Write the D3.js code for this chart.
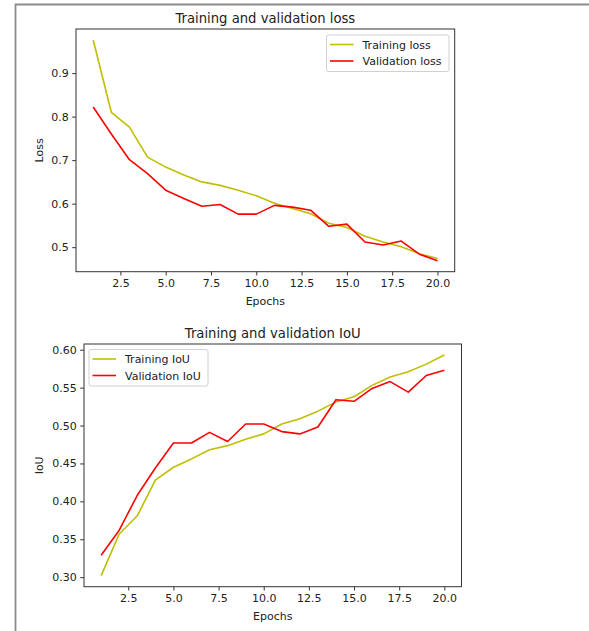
<!DOCTYPE html>
<html>
<head>
<meta charset="utf-8">
<script src="https://cdn.jsdelivr.net/npm/d3@7"></script>
<style>
  html, body { margin: 0; padding: 0; background: #ffffff; }
  svg { display: block; font-family: "DejaVu Sans", sans-serif; }
</style>
</head>
<body>
<svg id="chart" width="589" height="631"></svg>
<script>
// ---- data ----
const epochs = [1,2,3,4,5,6,7,8,9,10,11,12,13,14,15,16,17,18,19,20];
const trainLoss = [0.976,0.810,0.776,0.707,0.684,0.666,0.650,0.642,0.631,0.618,0.601,0.589,0.577,0.555,0.545,0.525,0.512,0.501,0.485,0.474];
const valLoss   = [0.822,0.760,0.701,0.669,0.631,0.612,0.594,0.598,0.576,0.576,0.596,0.592,0.585,0.548,0.553,0.512,0.505,0.514,0.484,0.469];
const trainIoU  = [0.302,0.357,0.381,0.428,0.445,0.456,0.468,0.4735,0.482,0.489,0.502,0.509,0.519,0.531,0.538,0.553,0.564,0.571,0.581,0.593];
const valIoU    = [0.329,0.362,0.408,0.444,0.477,0.477,0.491,0.479,0.502,0.502,0.492,0.489,0.498,0.534,0.532,0.549,0.558,0.544,0.566,0.573];
const xTicks = [2.5,5.0,7.5,10.0,12.5,15.0,17.5,20.0];
const lossTicks = [0.5,0.6,0.7,0.8,0.9];
const iouTicks = [0.30,0.35,0.40,0.45,0.50,0.55,0.60];
const trainColor = "#bfbf00";
const valColor = "#ff0000";

const svg = d3.select("#chart");

// notebook cell frame
svg.append("path")
  .attr("d", "M15.5,631 L15.5,4.5 L589,4.5")
  .attr("fill", "none").attr("stroke", "#8c8c8c").attr("stroke-width", 1.8);

function padExtent(arr) {
  const [lo, hi] = d3.extent(arr);
  const m = (hi - lo) * 0.05;
  return [lo - m, hi + m];
}

function panel(opt) {
  const g = svg.append("g");
  const x = d3.scaleLinear().domain(padExtent(epochs)).range([opt.left, opt.right]);
  const y = d3.scaleLinear().domain(padExtent(opt.train.concat(opt.val))).range([opt.bottom, opt.top]);

  const line = d3.line().x((d, i) => x(epochs[i])).y(d => y(d));
  g.append("path").datum(opt.train).attr("d", line)
    .attr("fill", "none").attr("stroke", trainColor).attr("stroke-width", 1.6).attr("stroke-linejoin", "round");
  g.append("path").datum(opt.val).attr("d", line)
    .attr("fill", "none").attr("stroke", valColor).attr("stroke-width", 1.6).attr("stroke-linejoin", "round");

  // axes
  const xa = g.append("g").attr("transform", `translate(0,${opt.bottom})`)
    .call(d3.axisBottom(x).tickValues(xTicks).tickFormat(d3.format(".1f")).tickSizeOuter(0).tickSize(3.8).tickPadding(3.5));
  const ya = g.append("g").attr("transform", `translate(${opt.left},0)`)
    .call(d3.axisLeft(y).tickValues(opt.yTicks).tickFormat(d3.format(opt.yFmt)).tickSizeOuter(0).tickSize(3.8).tickPadding(3.5));
  [xa, ya].forEach(a => {
    a.select(".domain").remove();
    a.selectAll("line").attr("stroke", "#333");
    a.selectAll("text").attr("fill", "#222").style("font-size", "11px").style("font-family", "DejaVu Sans");
  });

  // frame
  g.append("rect").attr("x", opt.left).attr("y", opt.top)
    .attr("width", opt.right - opt.left).attr("height", opt.bottom - opt.top)
    .attr("fill", "none").attr("stroke", "#333").attr("stroke-width", 1);

  // title & labels
  g.append("text").attr("x", (opt.left + opt.right) / 2).attr("y", opt.top - 6.5)
    .attr("text-anchor", "middle").attr("fill", "#222").style("font-size", "13.2px").text(opt.title);
  g.append("text").attr("x", (opt.left + opt.right) / 2).attr("y", opt.bottom + 33)
    .attr("text-anchor", "middle").attr("fill", "#222").style("font-size", "11px").text("Epochs");
  g.append("text").attr("transform", `translate(43,${(opt.top + opt.bottom) / 2}) rotate(-90)`)
    .attr("text-anchor", "middle").attr("fill", "#222").style("font-size", "11px").text(opt.ylabel);

  // legend
  const L = opt.legend;
  g.append("rect").attr("x", L.x).attr("y", L.y).attr("width", L.w).attr("height", L.h)
    .attr("rx", 2).attr("fill", "#fff").attr("fill-opacity", 0.8)
    .attr("stroke", "#d0d0d0").attr("stroke-width", 1);
  const items = [[opt.names[0], trainColor], [opt.names[1], valColor]];
  items.forEach((it, i) => {
    const cy = L.y + 9.5 + i * 16.5;
    g.append("line").attr("x1", L.x + 3.5).attr("x2", L.x + 27).attr("y1", cy).attr("y2", cy)
      .attr("stroke", it[1]).attr("stroke-width", 1.6);
    g.append("text").attr("x", L.x + 36).attr("y", cy + 4)
      .attr("fill", "#222").style("font-size", "11px").text(it[0]);
  });
}

panel({
  left: 76, top: 29, right: 454.7, bottom: 271.7,
  train: trainLoss, val: valLoss, yTicks: lossTicks, yFmt: ".1f",
  title: "Training and validation loss", ylabel: "Loss",
  names: ["Training loss", "Validation loss"],
  legend: { x: 326.5, y: 35, w: 122.5, h: 36.5 }
});

panel({
  left: 84, top: 344, right: 461.5, bottom: 586.7,
  train: trainIoU, val: valIoU, yTicks: iouTicks, yFmt: ".2f",
  title: "Training and validation IoU", ylabel: "IoU",
  names: ["Training IoU", "Validation IoU"],
  legend: { x: 89, y: 349.5, w: 119, h: 36.5 }
});
</script>
</body>
</html>
